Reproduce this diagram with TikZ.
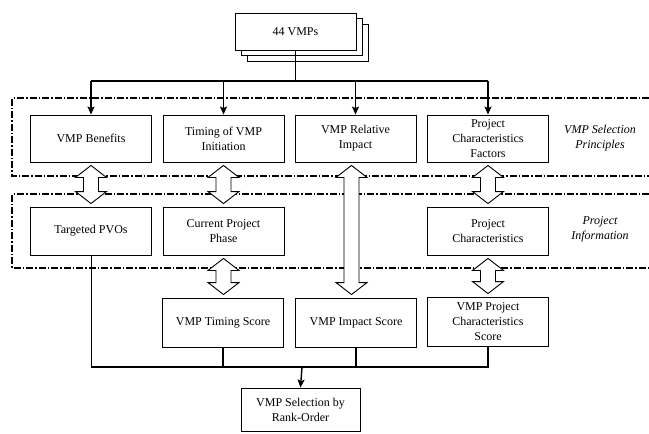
\documentclass[tikz,border=0pt]{standalone}
\usepackage{fontspec}
\setmainfont{Liberation Serif}
\usetikzlibrary{arrows.meta,calc}
\newcommand\holdbl[3][+0pt]{%
  \draw[hollow] let \p1=(#2.south), \p2=(#3.north) in
  (\x1#1,\y1-3pt) -- (\x1#1+15.5pt,\y1-15pt) -- (\x1#1+7.5pt,\y1-15pt) --
  (\x1#1+7.5pt,\y2+15pt) -- (\x1#1+15.5pt,\y2+15pt) -- (\x1#1,\y2+3pt) --
  (\x1#1-15.5pt,\y2+15pt) -- (\x1#1-7.5pt,\y2+15pt) -- (\x1#1-7.5pt,\y1-15pt) --
  (\x1#1-15.5pt,\y1-15pt) -- cycle;}
\begin{document}
\begin{tikzpicture}[x=1pt,y=-1pt,
  box/.style={draw, line width=0.9pt, fill=white, minimum width=121pt, align=center,
    inner sep=2pt, font=\fontsize{12}{15}\selectfont},
  lab/.style={align=center, font=\fontsize{12}{15}\selectfont\itshape},
  region/.style={line width=1.1pt, dash pattern=on 7pt off 2pt on 1.5pt off 2pt},
  conn/.style={line width=1.4pt},
  thinconn/.style={line width=0.9pt},
  arr/.style={conn, -{Stealth[length=8pt,width=7pt,inset=1.5pt]}},
  hollow/.style={draw, fill=white, line width=0.9pt, line join=miter}]
\useasboundingbox (0,0) rectangle (649,434);

% regions
\draw[region] (649,98) -- (12,98) -- (12,176) -- (649,176);
\draw[region] (649,194) -- (12,194) -- (12,268) -- (649,268);

% stacked source box
\node[box, minimum height=37pt] (vmpc) at (307.5,42.5) {};
\node[box, minimum height=37pt] (vmpb) at (301.5,36.5) {};
\node[box, minimum height=37pt] (vmp) at (295.5,31.5) {44 VMPs};

% row 1
\node[box, minimum height=47pt] (ben) at (91,138.5) {VMP Benefits};
\node[box, minimum height=47pt] (tim) at (223.5,138.5) {Timing of VMP\\Initiation};
\node[box, minimum height=47pt] (rel) at (355.5,138.5) {VMP Relative\\Impact};
\node[box, minimum height=47pt] (pcf) at (488,138.5) {Project\\Characteristics\\Factors};
\node[lab] (lsp) at (600,138) {VMP Selection\\Principles};

% row 2
\node[box, minimum height=48pt] (pvo) at (91,231) {Targeted PVOs};
\node[box, minimum height=48pt] (cpp) at (223.5,231) {Current Project\\Phase};
\node[box, minimum height=48pt] (pch) at (488,231) {Project\\Characteristics};
\node[lab] (lpi) at (600,229) {Project\\Information};

% row 3
\node[box, minimum height=49pt] (tsc) at (223,322.5) {VMP Timing Score};
\node[box, minimum height=49pt] (isc) at (356,322.5) {VMP Impact Score};
\node[box, minimum height=49pt] (pcs) at (488,321.5) {VMP Project\\Characteristics\\Score};

% result
\node[box, minimum width=119pt, minimum height=43pt] (sel) at (300.5,409.5) {VMP Selection by\\Rank-Order};

% top distribution
\coordinate (bus) at (295.5,81);
\draw[thinconn] (vmp.south) -- (bus);
\draw[line width=1.6pt] (ben.north |- bus) -- (pcf.north |- bus);
\draw[arr] (ben.north |- bus) -- (ben.north);
\draw[arr] (tim.north |- bus) -- (tim.north);
\draw[arr] (rel.north |- bus) -- (rel.north);
\draw[arr] (pcf.north |- bus) -- (pcf.north);

% hollow double arrows
\holdbl{ben}{pvo}
\holdbl{tim}{cpp}
\holdbl{pcf}{pch}
\holdbl[-4pt]{rel}{isc}
\holdbl{cpp}{tsc}
\holdbl{pch}{pcs}

% bottom collection
\coordinate (bus2) at (302,367);
\draw[thinconn] (pvo.south) -- (pvo.south |- bus2);
\draw[conn] (pvo.south |- bus2) -- (pcs.south |- bus2) -- (pcs.south);
\draw[conn] (tsc.south) -- (tsc.south |- bus2);
\draw[conn] (isc.south) -- (isc.south |- bus2);
\draw[arr] (bus2) -- (sel.north);
\end{tikzpicture}
\end{document}
